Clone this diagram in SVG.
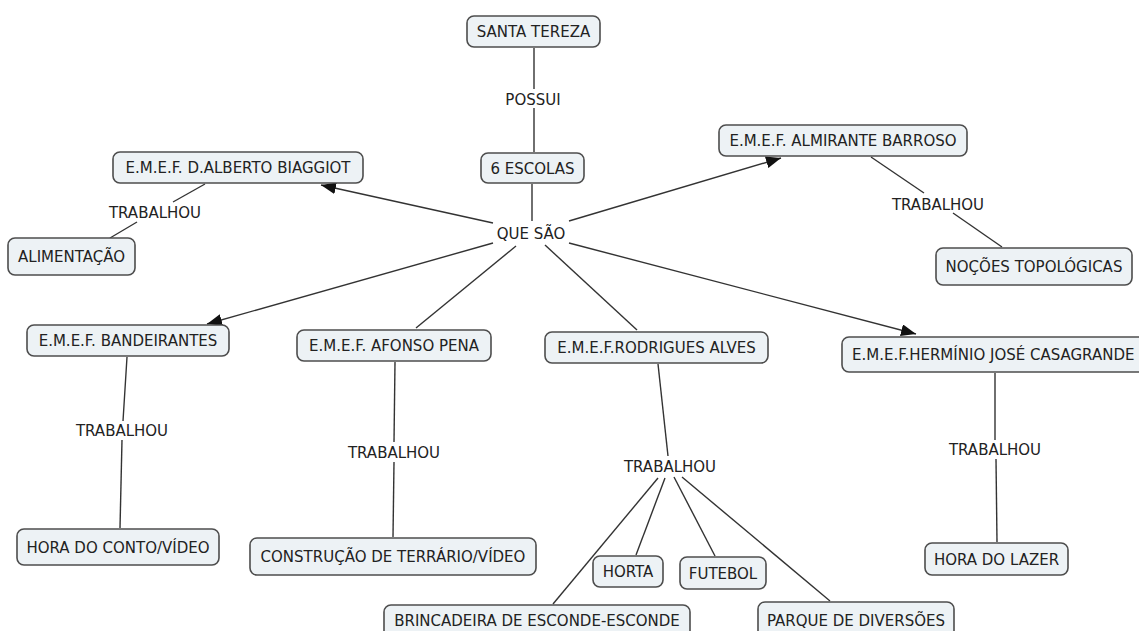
<svg xmlns="http://www.w3.org/2000/svg" width="1139" height="631" viewBox="0 0 1139 631">
<style>
.n rect{fill:#edf2f5;stroke:#4d4d4d;stroke-width:1.6}
text{font-family:"DejaVu Sans","Verdana",sans-serif;font-size:15px;fill:#222;text-anchor:middle}
.c line{stroke:#333;stroke-width:1.4;fill:none}
.c line.a{marker-end:url(#ah)}
</style>
<defs>
<marker id="ah" markerUnits="userSpaceOnUse" markerWidth="16" markerHeight="12" refX="15" refY="6" orient="auto">
<path d="M0,0 L15,6 L0,12 z" fill="#111"/>
</marker>
</defs>
<rect width="1139" height="631" fill="#fff"/>
<g class="c" id="connectors">
<line x1="534" y1="48" x2="534" y2="89"/>
<line x1="534" y1="108" x2="534" y2="152"/>
<line x1="532" y1="184" x2="532" y2="221"/>
<line class="a" x1="493" y1="223" x2="321" y2="185"/>
<line class="a" x1="569" y1="221" x2="781" y2="158"/>
<line class="a" x1="493" y1="243" x2="207" y2="324"/>
<line x1="516" y1="246" x2="416" y2="328"/>
<line x1="545" y1="245" x2="637" y2="330"/>
<line class="a" x1="569" y1="243" x2="916" y2="334"/>
<line x1="205" y1="184" x2="173" y2="202"/>
<line x1="137" y1="222" x2="110" y2="238"/>
<line x1="871" y1="157" x2="924" y2="193"/>
<line x1="953" y1="213" x2="1002" y2="247"/>
<line x1="127" y1="357" x2="123" y2="421"/>
<line x1="122" y1="440" x2="120" y2="528"/>
<line x1="395" y1="362" x2="394" y2="442"/>
<line x1="394" y1="462" x2="393" y2="537"/>
<line x1="658" y1="364" x2="668" y2="456"/>
<line x1="658" y1="478" x2="553" y2="604"/>
<line x1="665" y1="478" x2="636" y2="555"/>
<line x1="674" y1="477" x2="715" y2="556"/>
<line x1="682" y1="477" x2="830" y2="601"/>
<line x1="995" y1="373" x2="995" y2="440"/>
<line x1="996" y1="459" x2="997" y2="542"/>
</g>
<g id="labels">
<text x="533" y="104.5">POSSUI</text>
<text x="531" y="238.5">QUE SÃO</text>
<text x="155" y="217.5">TRABALHOU</text>
<text x="938" y="209.5">TRABALHOU</text>
<text x="122" y="435.5">TRABALHOU</text>
<text x="394" y="457.5">TRABALHOU</text>
<text x="670" y="471.5">TRABALHOU</text>
<text x="995" y="454.5">TRABALHOU</text>
</g>
<g class="n" id="santa-tereza"><rect x="467" y="16" width="133" height="31" rx="7"/><text x="533.5" y="37">SANTA TEREZA</text></g>
<g class="n" id="seis-escolas"><rect x="481" y="153" width="103" height="30" rx="7"/><text x="532.5" y="173.5">6 ESCOLAS</text></g>
<g class="n" id="biaggiot"><rect x="113" y="152" width="250" height="31" rx="7"/><text x="238" y="173">E.M.E.F. D.ALBERTO BIAGGIOT</text></g>
<g class="n" id="alimentacao"><rect x="8" y="238" width="127" height="37" rx="7"/><text x="71.5" y="262">ALIMENTAÇÃO</text></g>
<g class="n" id="almirante"><rect x="719" y="125" width="248" height="31" rx="7"/><text x="843" y="146">E.M.E.F. ALMIRANTE BARROSO</text></g>
<g class="n" id="nocoes"><rect x="936" y="248" width="196" height="37" rx="7"/><text x="1034" y="272">NOÇÕES TOPOLÓGICAS</text></g>
<g class="n" id="bandeirantes"><rect x="27" y="325" width="202" height="31" rx="7"/><text x="128" y="346">E.M.E.F. BANDEIRANTES</text></g>
<g class="n" id="afonso"><rect x="297" y="330" width="194" height="31" rx="7"/><text x="394" y="351">E.M.E.F. AFONSO PENA</text></g>
<g class="n" id="rodrigues"><rect x="545" y="332" width="223" height="31" rx="7"/><text x="656.5" y="353">E.M.E.F.RODRIGUES ALVES</text></g>
<g class="n" id="herminio"><rect x="842" y="337" width="312" height="35" rx="7"/><text x="852" y="360" style="text-anchor:start">E.M.E.F.HERMÍNIO JOSÉ CASAGRANDE</text></g>
<g class="n" id="hora-conto"><rect x="17" y="529" width="202" height="36" rx="7"/><text x="118" y="552.5">HORA DO CONTO/VÍDEO</text></g>
<g class="n" id="construcao"><rect x="250" y="538" width="286" height="37" rx="7"/><text x="393" y="562">CONSTRUÇÃO DE TERRÁRIO/VÍDEO</text></g>
<g class="n" id="brincadeira"><rect x="384" y="605" width="306" height="37" rx="7"/><text x="537" y="625.5">BRINCADEIRA DE ESCONDE-ESCONDE</text></g>
<g class="n" id="horta"><rect x="593" y="556" width="70" height="31" rx="7"/><text x="628" y="577">HORTA</text></g>
<g class="n" id="futebol"><rect x="680" y="557" width="86" height="32" rx="7"/><text x="723" y="578.5">FUTEBOL</text></g>
<g class="n" id="parque"><rect x="758" y="602" width="196" height="37" rx="7"/><text x="856" y="625.5">PARQUE DE DIVERSÕES</text></g>
<g class="n" id="hora-lazer"><rect x="925" y="543" width="143" height="32" rx="7"/><text x="996.5" y="564.5">HORA DO LAZER</text></g>
</svg>
